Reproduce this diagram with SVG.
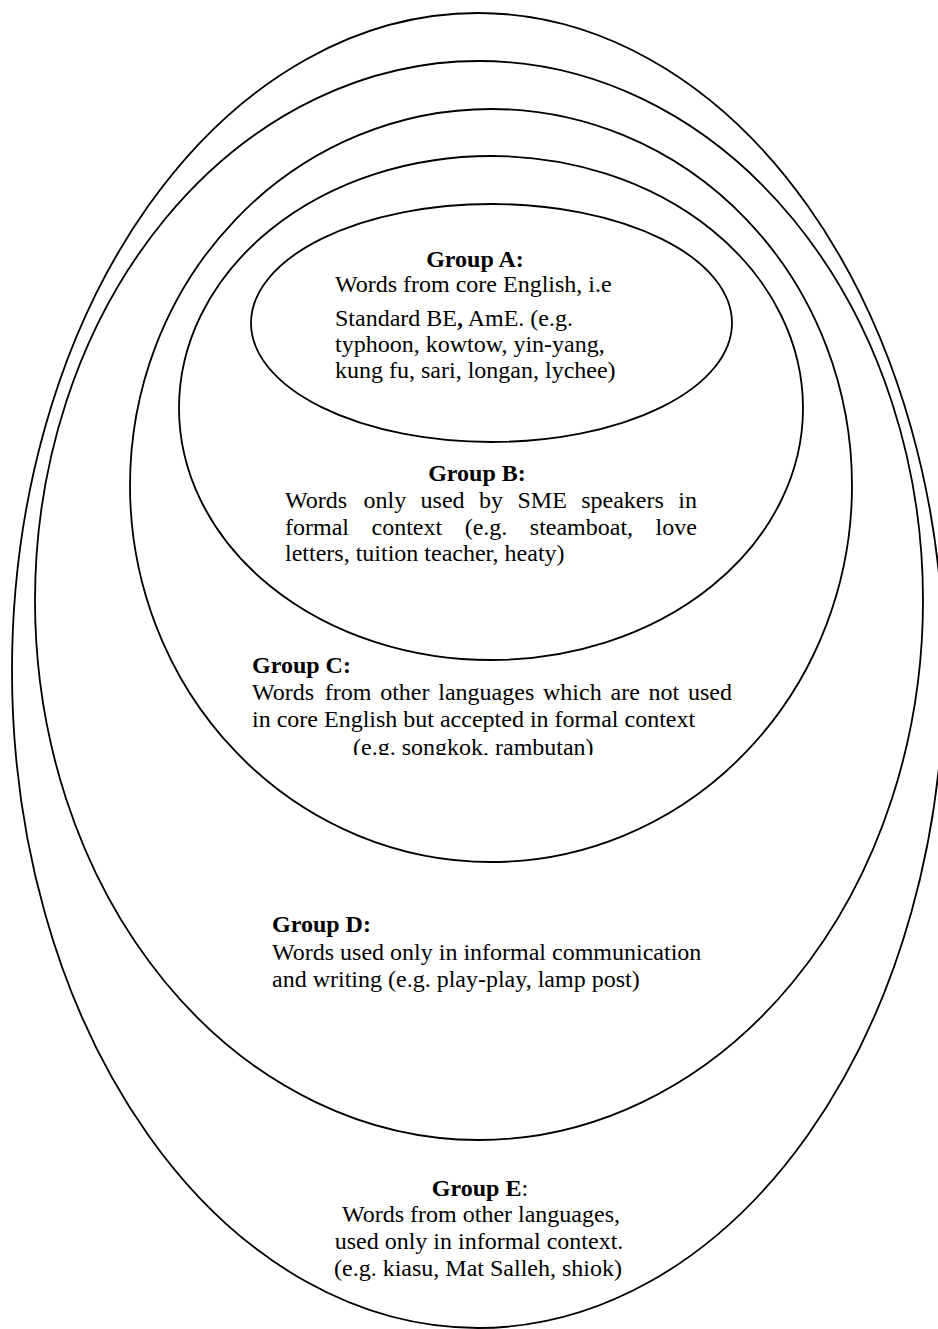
<svg xmlns="http://www.w3.org/2000/svg" width="938" height="1329" viewBox="0 0 938 1329">
<style>
.ring{fill:none;stroke:#000;stroke-width:1.8}
text{font-family:"Liberation Serif","Times New Roman",serif;font-size:24px;fill:#000}
.h{font-weight:bold}
.c{text-anchor:middle}
</style>
<defs>
<clipPath id="clipC"><rect x="0" y="0" width="938" height="755"/></clipPath>
</defs>
<rect width="938" height="1329" fill="#fff"/>
<g id="nodeE">
<ellipse class="ring" cx="478" cy="670.5" rx="466" ry="657.5"/>
<text class="c" x="480" y="1196"><tspan class="h">Group E</tspan>:</text>
<text class="c" x="481" y="1222">Words from other languages,</text>
<text class="c" x="479" y="1249">used only in informal context.</text>
<text class="c" x="478" y="1276">(e.g. kiasu, Mat Salleh, shiok)</text>
</g>
<g id="nodeD">
<ellipse class="ring" cx="479" cy="600.5" rx="444" ry="539.5"/>
<text class="h" x="272" y="932">Group D:</text>
<text x="272" y="960">Words used only in informal communication</text>
<text x="272" y="987">and writing (e.g. play-play, lamp post)</text>
</g>
<g id="nodeC">
<ellipse class="ring" cx="491" cy="485.5" rx="361" ry="376.5"/>
<text class="h" x="252" y="673">Group C:</text>
<text y="700"><tspan x="252">Words</tspan><tspan x="324.8">from</tspan><tspan x="380.2">other</tspan><tspan x="438.3">languages</tspan><tspan x="543">which</tspan><tspan x="610.5">are</tspan><tspan x="648.6">not</tspan><tspan x="688">used</tspan></text>
<text x="252" y="727">in core English but accepted in formal context</text>
<text x="353" y="755" clip-path="url(#clipC)">(e.g. songkok, rambutan)</text>
</g>
<g id="nodeB">
<ellipse class="ring" cx="491" cy="408" rx="312" ry="252"/>
<text class="h c" x="477" y="481">Group B:</text>
<text y="508"><tspan x="285">Words</tspan><tspan x="363.5">only</tspan><tspan x="420.6">used</tspan><tspan x="479">by</tspan><tspan x="517.5">SME</tspan><tspan x="581.2">speakers</tspan><tspan x="678.3">in</tspan></text>
<text y="535"><tspan x="285">formal</tspan><tspan x="371.5">context</tspan><tspan x="464.7">(e.g.</tspan><tspan x="529.8">steamboat,</tspan><tspan x="655.6">love</tspan></text>
<text x="285" y="561">letters, tuition teacher, heaty)</text>
</g>
<g id="nodeA">
<ellipse class="ring" cx="491.5" cy="323" rx="240.5" ry="119"/>
<text class="h c" x="475" y="267">Group A:</text>
<text x="335" y="292">Words from core English, i.e</text>
<text x="335" y="326">Standard BE<tspan class="h">,</tspan>  AmE. (e.g.</text>
<text x="335" y="352">typhoon, kowtow, yin-yang,</text>
<text x="335" y="378">kung fu, sari, longan, lychee)</text>
</g>
<g id="connectors"/>
</svg>
